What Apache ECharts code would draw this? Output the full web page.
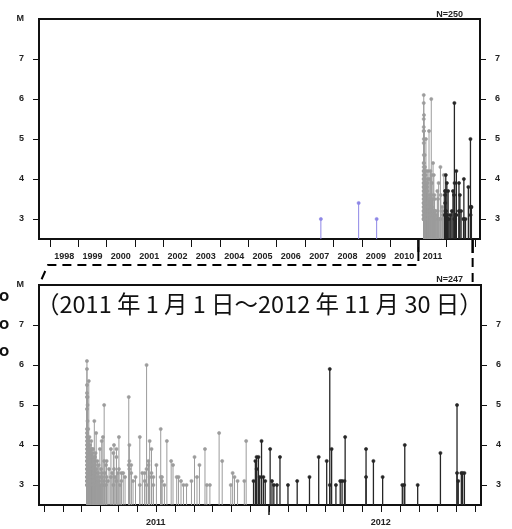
<!DOCTYPE html>
<html><head><meta charset="utf-8">
<script src="https://cdn.jsdelivr.net/npm/echarts@6/dist/echarts.min.js"></script>
<style>html,body{margin:0;padding:0;background:#fff}#c{width:512px;height:529px}</style>
</head><body><div id="c"></div>
<script>
// Events before 2011 (top panel only)
const earlyDays = ['2007-07-24', '2008-11-22', '2009-07-12'];
const earlyMags = [3.0, 3.4, 3.0];

// Events 2011-01-01 .. 2012-11-30, grouped by day (magnitudes)
const eventDays = [
  '2011-03-11','2011-03-12','2011-03-13','2011-03-14','2011-03-15','2011-03-16','2011-03-17','2011-03-18',
  '2011-03-19','2011-03-20','2011-03-21','2011-03-22','2011-03-23','2011-03-24','2011-03-25','2011-03-26',
  '2011-03-27','2011-03-28','2011-03-29','2011-03-30','2011-03-31',
  '2011-04-01','2011-04-02','2011-04-03','2011-04-04','2011-04-05','2011-04-06','2011-04-08','2011-04-09',
  '2011-04-11','2011-04-12','2011-04-14','2011-04-16','2011-04-19','2011-04-21','2011-04-23','2011-04-24',
  '2011-04-26','2011-04-28','2011-04-30',
  '2011-05-02','2011-05-04','2011-05-06','2011-05-09','2011-05-12','2011-05-18','2011-05-19','2011-05-22',
  '2011-05-25','2011-05-29',
  '2011-06-05','2011-06-09','2011-06-13','2011-06-16','2011-06-19','2011-06-21','2011-06-24','2011-06-27',
  '2011-07-02','2011-07-09','2011-07-11','2011-07-15','2011-07-19','2011-07-26','2011-07-29',
  '2011-08-04','2011-08-07','2011-08-11','2011-08-15','2011-08-20','2011-08-28',
  '2011-09-02','2011-09-06','2011-09-10','2011-09-19','2011-09-22','2011-09-27',
  '2011-10-12','2011-10-17','2011-10-31',
  '2011-11-03','2011-11-06','2011-11-11','2011-11-22','2011-11-25',
  '2011-12-07','2011-12-10','2011-12-12','2011-12-15','2011-12-17','2011-12-20','2011-12-23','2011-12-26',
  '2012-01-03','2012-01-06','2012-01-09','2012-01-14','2012-01-19',
  '2012-02-01','2012-02-16','2012-03-07','2012-03-22',
  '2012-04-04','2012-04-09','2012-04-12','2012-04-19','2012-04-26','2012-04-29',
  '2012-05-03','2012-05-04','2012-06-07','2012-06-19','2012-07-04',
  '2012-08-05','2012-08-08','2012-08-09','2012-08-30','2012-10-06',
  '2012-11-02','2012-11-04','2012-11-09','2012-11-11','2012-11-14'
];
const eventMags = [
  [6.1,5.9,5.5,5.3,5.2,4.9,4.4,4.3,4.2,4.1,4.0,3.9,3.8,3.7,3.6,3.6,3.5,3.4,3.4,3.3,3.2,3.2,3.1,3.1,3.0,3.0],
  [5.2,5.0,4.6,4.2,4.0,3.9,3.8,3.7,3.5,3.4,3.3,3.2,3.1,3.0,3.0],
  [4.4,4.1,3.9,3.8,3.6,3.4,3.3,3.2,3.1,3.0],
  [5.6,4.0,3.8,3.7,3.5,3.3,3.2,3.0],
  [4.2,3.9,3.7,3.6,3.4,3.1],
  [4.0,3.8,3.5,3.4,3.2,3.0],
  [3.9,3.7,3.6,3.3,3.1],
  [4.1,3.8,3.4,3.0],
  [3.9,3.7,3.4,3.2],
  [3.8,3.5,3.1,3.0],
  [3.9,3.4,3.2],[3.7,3.3,3.0],[4.6,3.6,3.2],[3.7,3.5,3.1],[3.8,3.3,3.0],[4.3,3.4],
  [3.2,3.0],[3.6,3.1],[3.3],[3.5,3.0],[3.1],
  [3.9,3.2],[3.0],[3.4],[4.1,3.3],[3.2],[4.2,3.0],[5.0,3.6,3.1],[3.3],
  [3.5,3.0],[3.6,3.2],[3.1],[3.4],[3.9,3.2],[3.3],[3.8,3.0],[4.0,3.4],
  [3.2],[3.9,3.7,3.1],[3.3],
  [4.2,3.4],[3.0],[3.3,3.1],[3.3],[3.2],[5.2,3.5],[4.0,3.6,3.4],[3.5,3.3],
  [3.1],[3.2],
  [4.2,3.0],[3.3],[3.3,3.1],[6.0,3.4,3.0],[3.6,3.5],[4.1,3.2],[3.9,3.3],[3.2,3.0],
  [3.5],[4.4,3.2],[3.2,3.1],[3.0],[4.1],[3.6],[3.5],
  [3.2],[3.2],[3.1],[3.0],[3.0],[3.1],
  [3.7],[3.2],[3.5],[3.9],[3.0],[3.0],
  [4.3],[3.6],[3.0],
  [3.3],[3.2],[3.1],[3.1],[4.1],
  [3.1],[3.6],[3.7,3.4],[3.7],[3.2],[4.1],[3.2],[3.1],
  [3.9],[3.1],[3.0],[3.0],[3.7],
  [3.0],[3.1],[3.2],[3.7],
  [3.6],[5.9,3.0],[3.9],[3.0],[3.1],[3.1],
  [3.1],[4.2],[3.9,3.2],[3.6],[3.2],
  [3.0],[3.0],[4.0],[3.0],[3.8],
  [5.0,3.3],[3.1],[3.3],[3.3],[3.3]
];

const yTickValues = [3, 4, 5, 6, 7];
const yTopLabel = 'M';
const topYearLabels = ['1998','1999','2000','2001','2002','2003','2004','2005','2006','2007','2008','2009','2010','2011'];
const topTickYears = [1998,1999,2000,2001,2002,2003,2004,2005,2006,2007,2008,2009,2010,2011,2012,2013];
const bottomYearLabels = ['2011', '2012'];
const periodStart = '2011-01-01';
const periodEnd = '2012-11-30';
const titleText = '（2011 年 1 月 1 日～2012 年 11 月 30 日）';
const sideMarks = ['O', 'O', 'O'];

// ---------- build ----------
const ts = s => Date.parse(s + 'T00:00:00Z');
const COLORS = ['#8d86e6', '#9c9c9c', '#262626'];
const grayEnd = ts('2011-12-01');
function group(t) { return t < ts(periodStart) ? 0 : (t < grayEnd ? 1 : 2); }

const mainEvents = [];
eventDays.forEach((d, i) => {
  eventMags[i].forEach(m => { const t = ts(d); mainEvents.push([t, m, group(t)]); });
});
const preEvents = earlyDays.map((d, i) => { const t = ts(d); return [t, earlyMags[i], group(t)]; });
const allEvents = preEvents.concat(mainEvents);

function renderStem(params, api) {
  const t = api.value(0), m = api.value(1), g = api.value(2);
  const base = api.coord([t, 2.5]);
  const top = api.coord([t, m]);
  const col = COLORS[g];
  return {
    type: 'group',
    children: [
      { type: 'line', shape: { x1: base[0], y1: base[1], x2: top[0], y2: top[1] },
        style: { stroke: col, lineWidth: g === 2 ? 1.3 : 1 } },
      { type: 'circle', shape: { cx: top[0], cy: top[1], r: 1.6 },
        style: { fill: col, stroke: col, lineWidth: 0.6 } }
    ]
  };
}

const axisCol = '#111';
const lblFont = { fontSize: 9, fontWeight: 'bold', color: '#222', fontFamily: 'Liberation Sans' };

function yAxisDef(gridIndex, pos) {
  return {
    gridIndex, type: 'value', min: 2.5, max: 8, position: pos,
    axisLine: { show: true, lineStyle: { color: axisCol, width: 2 } },
    axisTick: { show: true, inside: false, length: 6, customValues: yTickValues, lineStyle: { color: axisCol, width: 1 } },
    axisLabel: Object.assign({
      customValues: pos === 'left' ? yTickValues.concat([8]) : yTickValues,
      formatter: v => v === 8 ? yTopLabel : String(v),
      margin: pos === 'left' ? 15 : 15
    }, lblFont),
    splitLine: { show: false }
  };
}

const topLabelTs = topYearLabels.map(y => Date.UTC(+y, 6, 2));
const topTickTs = topTickYears.map(y => Date.UTC(y, 0, 1));
const bottomTickTs = [];
for (let k = 0; k < 24; k++) bottomTickTs.push(Date.UTC(2011, k, 1));
const bottomLabelTs = bottomYearLabels.map(y => Date.UTC(+y, 6, 1));

function labelFor(list, tsList) {
  return v => { const i = tsList.indexOf(v); return i >= 0 ? list[i] : ''; };
}

const chart = echarts.init(document.getElementById('c'), null, { renderer: 'canvas' });

const bMin = Date.UTC(2010, 11, 23), bMax = Date.UTC(2012, 11, 11);
const option = {
  animation: false,
  backgroundColor: '#fff',
  grid: [
    { left: 39, top: 19, width: 441, height: 220, show: true, borderColor: axisCol, borderWidth: 2, backgroundColor: 'transparent', containLabel: false, outerBoundsMode: 'none' },
    { left: 39, top: 285, width: 442, height: 220, show: true, borderColor: axisCol, borderWidth: 2, backgroundColor: 'transparent', containLabel: false, outerBoundsMode: 'none' }
  ],
  xAxis: [
    {
      gridIndex: 0, type: 'value', position: 'bottom', scale: true,
      min: Date.UTC(1997, 7, 12), max: Date.UTC(2013, 2, 5),
      axisLine: { show: true, onZero: false, lineStyle: { color: axisCol, width: 2 } },
      axisTick: { show: true, length: 8, customValues: topTickTs, lineStyle: { color: axisCol, width: 1 } },
      axisLabel: Object.assign({ customValues: topLabelTs, margin: 13,
        formatter: labelFor(topYearLabels, topLabelTs) }, lblFont),
      splitLine: { show: false }
    },
    {
      gridIndex: 1, type: 'value', position: 'bottom', scale: true,
      min: bMin, max: bMax,
      axisLine: { show: true, onZero: false, lineStyle: { color: axisCol, width: 2 } },
      axisTick: { show: true, length: 7, customValues: bottomTickTs, lineStyle: { color: axisCol, width: 1 } },
      axisLabel: Object.assign({ customValues: bottomLabelTs, margin: 13,
        formatter: labelFor(bottomYearLabels, bottomLabelTs) }, lblFont),
      splitLine: { show: false }
    },
    {
      gridIndex: 1, type: 'value', position: 'bottom', scale: true,
      min: bMin, max: bMax,
      axisLine: { show: false, onZero: false },
      axisTick: { show: true, length: 10, customValues: [Date.UTC(2012, 0, 1)], lineStyle: { color: axisCol, width: 1.5 } },
      axisLabel: { show: false },
      splitLine: { show: false }
    }
  ],
  yAxis: [yAxisDef(0, 'left'), yAxisDef(0, 'right'), yAxisDef(1, 'left'), yAxisDef(1, 'right')],
  series: [
    { type: 'custom', xAxisIndex: 0, yAxisIndex: 0, data: allEvents, renderItem: renderStem, clip: true },
    { type: 'custom', xAxisIndex: 1, yAxisIndex: 2, data: mainEvents, renderItem: renderStem, clip: true }
  ]
};
chart.setOption(option);

// connectors between the panels, placed through the axis scales
const xa = chart.convertToPixel({ xAxisIndex: 0 }, ts(periodStart));
const xb = chart.convertToPixel({ xAxisIndex: 0 }, ts(periodEnd));
const topBottom = 239, botTop = 285, botLeft = 39;
const nFont = { fontSize: 9, fontWeight: 'bold', fill: '#222', fontFamily: 'Liberation Sans' };
const sideFont = { fontSize: 12, fontWeight: 'bold', fill: '#111', fontFamily: 'DejaVu Sans', verticalAlign: 'middle' };
chart.setOption({
  graphic: [
    { type: 'line', shape: { x1: xa, y1: topBottom, x2: xa, y2: topBottom + 13 }, style: { stroke: '#000', lineWidth: 2.5 } },
    { type: 'line', shape: { x1: xb, y1: topBottom, x2: xb, y2: topBottom + 14 }, style: { stroke: '#000', lineWidth: 2.5 } },
    { type: 'polyline', shape: { points: [[xa, topBottom + 13], [xa, 265], [48, 265], [botLeft, botTop]] },
      style: { stroke: '#000', lineWidth: 2, lineDash: [9, 6], fill: null } },
    { type: 'line', shape: { x1: xb, y1: topBottom + 19, x2: xb, y2: botTop }, style: { stroke: '#000', lineWidth: 2, lineDash: [9, 6] } },
    { type: 'text', x: 463, y: 15, style: Object.assign({ text: 'N=' + allEvents.length, align: 'right', verticalAlign: 'middle' }, nFont) },
    { type: 'text', x: 463, y: 280, style: Object.assign({ text: 'N=' + mainEvents.length, align: 'right', verticalAlign: 'middle' }, nFont) },
    { type: 'text', x: 36, y: 304, z: 10, style: { text: titleText, fontSize: 23.5, fontFamily: 'Noto Sans CJK JP', fill: '#111', verticalAlign: 'middle' } },
    { type: 'text', x: -1, y: 298, style: Object.assign({ text: sideMarks[0] }, sideFont) },
    { type: 'text', x: -1, y: 326, style: Object.assign({ text: sideMarks[1] }, sideFont) },
    { type: 'text', x: -1, y: 353, style: Object.assign({ text: sideMarks[2] }, sideFont) }
  ]
});
</script></body></html>
